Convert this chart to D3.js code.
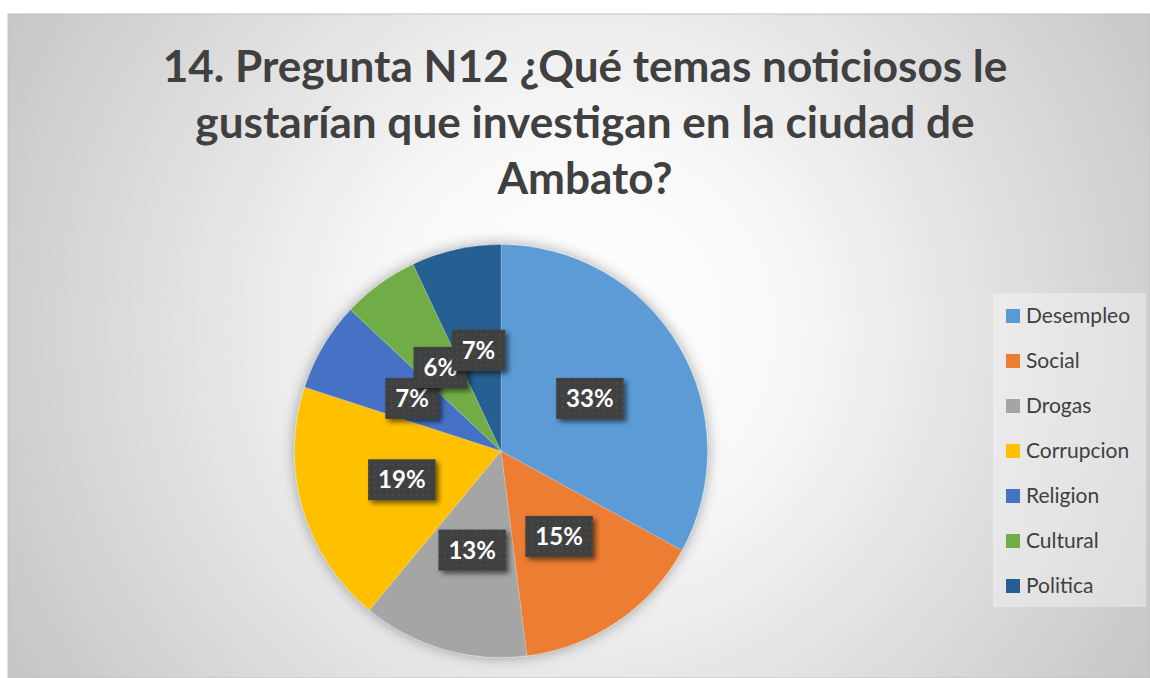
<!DOCTYPE html>
<html>
<head>
<meta charset="utf-8">
<script src="https://cdn.jsdelivr.net/npm/d3@7"></script>
<style>
  html, body { margin: 0; padding: 0; background: #fff; }
  svg { display: block; font-family: Lato, "Open Sans", sans-serif; }
</style>
</head>
<body>
<script>
// Datos del gráfico
const categories = ['Desempleo', 'Social', 'Drogas', 'Corrupcion', 'Religion', 'Cultural', 'Politica'];
const values = [33, 15, 13, 19, 7, 6, 7];
const colors = ['#5B9BD5', '#ED7D31', '#A5A5A5', '#FFC000', '#4472C4', '#70AD47', '#255E91'];
const titleLines = ['14. Pregunta N12 ¿Qué temas noticiosos le', 'gustarían que investigan en la ciudad de', 'Ambato?'];

const width = 1150;
const height = 678;
const cx = 501;
const cy = 451;
const radius = 206.5;
const textColor = '#404040';

const svg = d3.select('body').append('svg')
  .attr('width', width)
  .attr('height', height);

const defs = svg.append('defs');

// Fondo con degradado radial
const grad = defs.append('radialGradient')
  .attr('id', 'bg')
  .attr('gradientUnits', 'userSpaceOnUse')
  .attr('cx', 585).attr('cy', 330).attr('r', 660);
grad.append('stop').attr('offset', '0').attr('stop-color', '#ffffff');
grad.append('stop').attr('offset', '0.3').attr('stop-color', '#f8f8f8');
grad.append('stop').attr('offset', '1').attr('stop-color', '#c6c6c6');

// Sombra difusa del pastel
const pieShadow = defs.append('filter').attr('id', 'pieShadow')
  .attr('x', '-20%').attr('y', '-20%').attr('width', '140%').attr('height', '140%');
pieShadow.append('feGaussianBlur').attr('in', 'SourceAlpha').attr('stdDeviation', 7).attr('result', 'b');
pieShadow.append('feFlood').attr('flood-color', '#000').attr('flood-opacity', 0.35);
pieShadow.append('feComposite').attr('in2', 'b').attr('operator', 'in').attr('result', 's');
const pm = pieShadow.append('feMerge');
pm.append('feMergeNode').attr('in', 's');
pm.append('feMergeNode').attr('in', 'SourceGraphic');

// Sombra de las etiquetas
const lblShadow = defs.append('filter').attr('id', 'lblShadow')
  .attr('x', '-30%').attr('y', '-30%').attr('width', '160%').attr('height', '160%');
lblShadow.append('feGaussianBlur').attr('in', 'SourceAlpha').attr('stdDeviation', 2.5).attr('result', 'b');
lblShadow.append('feOffset').attr('in', 'b').attr('dx', 3).attr('dy', 3).attr('result', 'o');
lblShadow.append('feFlood').attr('flood-color', '#000').attr('flood-opacity', 0.55);
lblShadow.append('feComposite').attr('in2', 'o').attr('operator', 'in').attr('result', 's');
const lm = lblShadow.append('feMerge');
lm.append('feMergeNode').attr('in', 's');
lm.append('feMergeNode').attr('in', 'SourceGraphic');

// Patrón de puntos de las etiquetas
const dots = defs.append('pattern').attr('id', 'dots')
  .attr('patternUnits', 'userSpaceOnUse').attr('width', 6).attr('height', 6);
dots.append('rect').attr('width', 6).attr('height', 6).attr('fill', '#404040');
dots.append('rect').attr('x', 2).attr('y', 2).attr('width', 2).attr('height', 2).attr('fill', '#4c4c4c');

svg.append('rect')
  .attr('x', 8).attr('y', 14)
  .attr('width', width - 8).attr('height', height - 14)
  .attr('fill', 'url(#bg)')
  .attr('stroke', '#c0c0c0').attr('stroke-width', 1);

// Título
const title = svg.append('text')
  .attr('text-anchor', 'middle')
  .attr('fill', textColor)
  .attr('font-weight', 'bold')
  .attr('font-size', 45);
title.selectAll('tspan').data(titleLines).join('tspan')
  .attr('x', 585)
  .attr('y', (d, i) => 82 + i * 56)
  .text(d => d);
const firstLen = title.select('tspan').node().getComputedTextLength();
title.attr('font-size', 45 * 845 / firstLen);

// Pastel
const pie = d3.pie().sort(null).value(d => d.value);
const arcs = pie(categories.map((c, i) => ({ name: c, value: values[i] })));
const arc = d3.arc().innerRadius(0).outerRadius(radius);
const color = d3.scaleOrdinal().domain(categories).range(colors);

const pieG = svg.append('g').attr('transform', `translate(${cx},${cy})`);
pieG.append('g').attr('filter', 'url(#pieShadow)')
  .selectAll('path').data(arcs).join('path')
  .attr('d', arc)
  .attr('fill', d => color(d.data.name))
  .attr('stroke', '#ffffff').attr('stroke-width', 0.5).attr('stroke-opacity', 0.4);

// Etiquetas de datos
const labels = pieG.selectAll('g.lbl').data(arcs).join('g')
  .attr('class', 'lbl')
  .attr('transform', d => `translate(${arc.centroid(d)})`);
labels.append('rect').attr('filter', 'url(#lblShadow)').attr('fill', 'url(#dots)');
const lblText = labels.append('text')
  .attr('text-anchor', 'middle')
  .attr('dy', '0.36em')
  .attr('fill', '#ffffff')
  .attr('font-weight', 'bold')
  .attr('font-size', 24)
  .text(d => `${d.data.value}%`);
lblText.each(function () {
  const w = this.getComputedTextLength() + 20;
  d3.select(this.parentNode).select('rect')
    .attr('x', -w / 2).attr('y', -20.5)
    .attr('width', w).attr('height', 41);
});

// Leyenda
const legendY = d3.scalePoint().domain(categories).range([316, 586]);
svg.append('rect')
  .attr('x', 993).attr('y', 293).attr('width', 153).attr('height', 314)
  .attr('fill', '#ffffff').attr('fill-opacity', 0.35);
const legend = svg.append('g').selectAll('g').data(categories).join('g')
  .attr('transform', d => `translate(1006,${legendY(d)})`);
legend.append('rect')
  .attr('x', 0).attr('y', -7).attr('width', 14).attr('height', 14)
  .attr('fill', d => color(d));
legend.append('text')
  .attr('x', 20).attr('dy', '0.35em')
  .attr('fill', textColor)
  .attr('font-size', 21)
  .text(d => d);
</script>
</body>
</html>
